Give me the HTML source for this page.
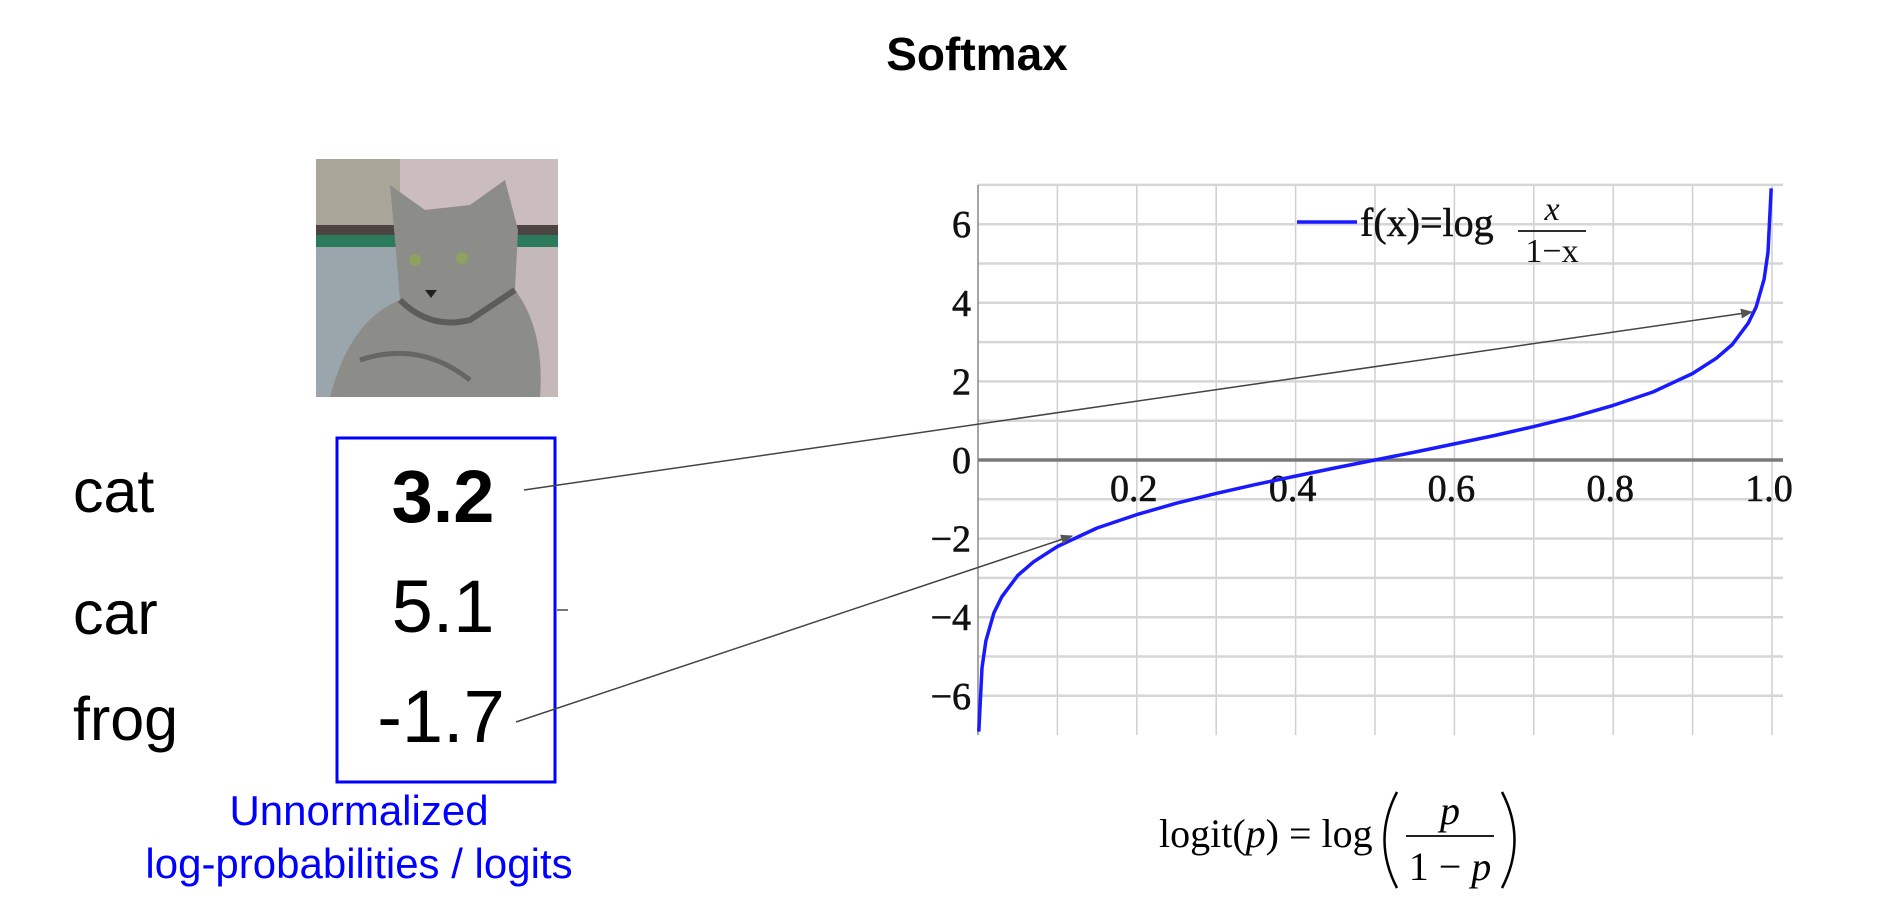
<!DOCTYPE html>
<html><head><meta charset="utf-8"><style>
html,body{margin:0;padding:0;background:#fff;}
body{width:1893px;height:919px;overflow:hidden;}
svg{display:block;}
</style></head><body>
<svg id="root" width="1893" height="919" viewBox="0 0 1893 919" xmlns="http://www.w3.org/2000/svg">
<text x="977" y="70" text-anchor="middle" font-family="Liberation Sans, sans-serif" font-weight="bold" font-size="46" fill="#000">Softmax</text>

<g>
  <rect x="316" y="159" width="242" height="238" fill="#b4aeab"/>
  <rect x="316" y="159" width="85" height="80" fill="#a9a699"/>
  <rect x="400" y="159" width="158" height="110" fill="#cbbcbd"/>
  <rect x="316" y="225" width="242" height="10" fill="#4b4440"/>
  <rect x="316" y="235" width="242" height="12" fill="#2c7a5c"/>
  <rect x="316" y="247" width="242" height="150" fill="#9aa6ab"/>
  <rect x="500" y="247" width="58" height="150" fill="#c4b8b8"/>
  <path d="M330 397 Q350 320 400 300 L395 240 L390 185 L425 210 L470 205 L505 180 L518 230 L515 290 Q545 330 540 397 Z" fill="#8c8c88"/>
  <path d="M400 300 Q430 330 470 320 Q500 300 515 290" fill="none" stroke="#5c5c58" stroke-width="6"/>
  <circle cx="415" cy="260" r="6" fill="#8fa060"/>
  <circle cx="462" cy="258" r="6" fill="#8fa060"/>
  <path d="M425 290 L437 290 L431 298 Z" fill="#222"/>
  <path d="M360 360 Q420 340 470 380" fill="none" stroke="#666" stroke-width="5"/>
</g>

<text x="73" y="512" font-family="Liberation Sans, sans-serif" font-size="61" fill="#000">cat</text>
<text x="73" y="634" font-family="Liberation Sans, sans-serif" font-size="61" fill="#000">car</text>
<text x="73" y="740" font-family="Liberation Sans, sans-serif" font-size="61" fill="#000">frog</text>

<rect x="337" y="438" width="218" height="344" fill="none" stroke="#0000ff" stroke-width="3"/>
<text x="443" y="522" text-anchor="middle" font-family="Liberation Sans, sans-serif" font-weight="bold" font-size="74" fill="#000">3.2</text>
<text x="443" y="632" text-anchor="middle" font-family="Liberation Sans, sans-serif" font-size="74" fill="#000">5.1</text>
<text x="441" y="742" text-anchor="middle" font-family="Liberation Sans, sans-serif" font-size="74" fill="#000">-1.7</text>
<line x1="557" y1="610" x2="568" y2="610" stroke="#777" stroke-width="2"/>

<text x="359" y="825" text-anchor="middle" font-family="Liberation Sans, sans-serif" font-size="42" fill="#0000ff">Unnormalized</text>
<text x="359" y="878" text-anchor="middle" font-family="Liberation Sans, sans-serif" font-size="42" fill="#0000ff">log-probabilities / logits</text>

<g id="chart"></g>

<defs>
  <marker id="ah" markerWidth="12" markerHeight="10" refX="11" refY="5" orient="auto" markerUnits="userSpaceOnUse">
    <path d="M0 0 L12 5 L0 10 Z" fill="#555"/>
  </marker>
</defs>
<line x1="524" y1="490" x2="1752" y2="312" stroke="#444" stroke-width="1.5" marker-end="url(#ah)"/>
<line x1="516" y1="722" x2="1072" y2="536" stroke="#444" stroke-width="1.5" marker-end="url(#ah)"/>

<g font-family="Liberation Serif, serif" font-size="40" fill="#000">
  <text x="1159" y="847">logit(<tspan font-style="italic">p</tspan>) = log</text>
  <path d="M1397 792 Q1372 840 1397 888" fill="none" stroke="#000" stroke-width="2.5"/>
  <text x="1450" y="824" text-anchor="middle" font-style="italic">p</text>
  <line x1="1406" y1="836" x2="1494" y2="836" stroke="#000" stroke-width="1.8"/>
  <text x="1450" y="880" text-anchor="middle">1 − <tspan font-style="italic">p</tspan></text>
  <path d="M1502 792 Q1527 840 1502 888" fill="none" stroke="#000" stroke-width="2.5"/>
</g>
</svg>
<script>
const xTicks = [0.2, 0.4, 0.6, 0.8, 1.0];
const xTickLabels = ["0.2", "0.4", "0.6", "0.8", "1.0"];
const yTicks = [6, 4, 2, 0, -2, -4, -6];
const yTickLabels = ["6", "4", "2", "0", "−2", "−4", "−6"];
const curveX = [0.001,0.005,0.01,0.02,0.03,0.05,0.07,0.1,0.15,0.2,0.25,0.3,0.35,0.4,0.45,0.5,0.55,0.6,0.65,0.7,0.75,0.8,0.85,0.9,0.93,0.95,0.97,0.98,0.99,0.995,0.999];
const curveY = [-6.91,-5.29,-4.60,-3.89,-3.48,-2.94,-2.59,-2.20,-1.73,-1.39,-1.10,-0.85,-0.62,-0.41,-0.20,0,0.20,0.41,0.62,0.85,1.10,1.39,1.73,2.20,2.59,2.94,3.48,3.89,4.60,5.29,6.91];

const NS = "http://www.w3.org/2000/svg";
const chart = document.getElementById('chart');
const X0 = 978, X1 = 1772, Y0 = 460, YU = 39.3;
const sx = v => X0 + v * (X1 - X0);
const sy = v => Y0 - v * YU;
function mk(tag, attrs, parent) {
  const e = document.createElementNS(NS, tag);
  for (const k in attrs) e.setAttribute(k, attrs[k]);
  (parent || chart).appendChild(e);
  return e;
}
const gTop = sy(7.0), gBot = sy(-7.0), gRight = 1783;
const grid = mk('g', {});


for (let i = 1; i <= 10; i++) {
  const l = mk('line', {x1: sx(i/10), x2: sx(i/10), y1: gTop, y2: gBot, stroke: '#cfcfcf', 'stroke-width': 1.5}, grid);
  
  
}
for (let v = -6; v <= 7; v++) {
  if (v === 0) continue;
  const l = mk('line', {x1: X0, x2: gRight, y1: sy(v), y2: sy(v), stroke: '#d6d6d6', 'stroke-width': 2.5}, grid);
  
  
}
const ya = mk('line', {x1: X0, x2: X0, y1: gTop, y2: gBot, stroke: '#888', 'stroke-width': 1.5});


const xa = mk('line', {x1: X0, x2: gRight, y1: sy(0), y2: sy(0), stroke: '#7a7a7a', 'stroke-width': 3.5});


xTicks.forEach((t, i) => {
  const tx = mk('text', {x: sx(t) - 3, y: sy(0) + 41, 'text-anchor': 'middle', 'font-family': 'Liberation Serif, serif', 'font-size': 38, fill: '#111', stroke: '#111', 'stroke-width': 0.6});
  tx.textContent = xTickLabels[i];
  
  
});
yTicks.forEach((t, i) => {
  const tx = mk('text', {x: 971, y: sy(t) + 13, 'text-anchor': 'end', 'font-family': 'Liberation Serif, serif', 'font-size': 38, fill: '#111', stroke: '#111', 'stroke-width': 0.6});
  tx.textContent = yTickLabels[i];
  
  
});
const pts = curveX.map((x, i) => sx(x).toFixed(1) + ',' + sy(curveY[i]).toFixed(1)).join(' ');
const curve = mk('polyline', {points: pts, fill: 'none', stroke: '#1a1aff', 'stroke-width': 3.5, 'stroke-linejoin': 'round'});



const lg = mk('g', {});


mk('line', {x1: 1297, x2: 1357, y1: 222, y2: 222, stroke: '#1a1aff', 'stroke-width': 3.5}, lg);
const lt = mk('text', {x: 1360, y: 236, 'font-family': 'Liberation Serif, serif', 'font-size': 40, fill: '#111', stroke: '#111', 'stroke-width': 0.5}, lg);
lt.textContent = 'f(x)=log';
const n1 = mk('text', {x: 1552, y: 220, 'text-anchor': 'middle', 'font-family': 'Liberation Serif, serif', 'font-style': 'italic', 'font-size': 34, fill: '#111'}, lg);
n1.textContent = 'x';
mk('line', {x1: 1518, x2: 1586, y1: 231, y2: 231, stroke: '#111', 'stroke-width': 1.8}, lg);
const d1 = mk('text', {x: 1552, y: 262, 'text-anchor': 'middle', 'font-family': 'Liberation Serif, serif', 'font-size': 34, fill: '#111'}, lg);
d1.textContent = '1−x';
</script>
</body></html>
